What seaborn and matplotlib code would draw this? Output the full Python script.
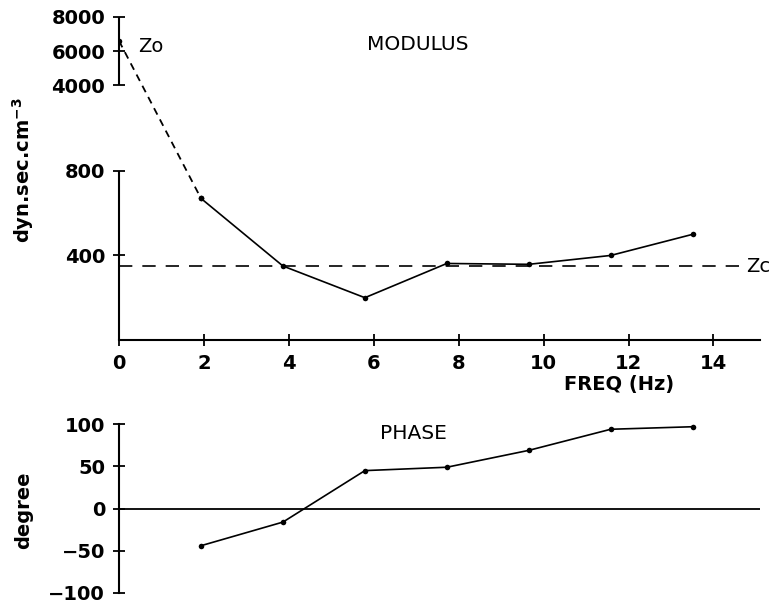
import numpy as np
import pandas as pd
import matplotlib
matplotlib.use("Agg")
import matplotlib.pyplot as plt
import seaborn as sns

# harmonics of heart rate (Hz)
freq = [0, 1.93, 3.86, 5.79, 7.72, 9.65, 11.58, 13.51]
modulus = [6600, 670, 350, 200, 362, 358, 400, 500]
phase_freq = [1.93, 3.86, 5.79, 7.72, 9.65, 11.58, 13.51]
phase = [-44, -16, 45, 49, 69, 94, 97]
zc_value = 350

mod_ticks = [400, 800, 4000, 6000, 8000]
phase_ticks = [-100, -50, 0, 50, 100]
freq_ticks = [0, 2, 4, 6, 8, 10, 12, 14]

sns.set_style("ticks")
plt.rcParams['font.family'] = ['DejaVu Sans']
plt.rcParams['axes.linewidth'] = 1.5
plt.rcParams['text.color'] = 'black'
plt.rcParams['xtick.color'] = 'black'
plt.rcParams['ytick.color'] = 'black'
plt.rcParams['axes.edgecolor'] = 'black'

fig = plt.figure(figsize=(7.8, 6.06), dpi=100)
ax1 = fig.add_axes([0.1526, 0.439, 0.822, 0.533])
ax2 = fig.add_axes([0.1526, 0.0215, 0.822, 0.2785])

# broken modulus axis: piecewise linear scale
brk_val = [0, 800, 4000, 8000]
brk_pos = [0, 168, 253, 321]
fwd = lambda v: np.interp(v, brk_val, brk_pos)
inv = lambda p: np.interp(p, brk_pos, brk_val)
ax1.set_yscale('function', functions=(fwd, inv))

df = pd.DataFrame({"freq": freq, "modulus": modulus})
sns.lineplot(data=df.iloc[1:], x="freq", y="modulus", ax=ax1, color="black",
             lw=1.2, marker="o", markersize=4, markeredgewidth=0)
sns.lineplot(data=df.iloc[:2], x="freq", y="modulus", ax=ax1, color="black",
             lw=1.3, ls=(0, (4, 3)), marker="o", markersize=4, markeredgewidth=0)
ax1.axhline(zc_value, xmax=0.975, color="black", lw=1.2, ls=(0, (8, 6)))

ax1.set_xlim(0, 15.1)
ax1.set_ylim(0, 8000)
ax1.set_yticks(mod_ticks)
ax1.set_yticklabels([str(t) for t in mod_ticks])
ax1.set_xticks(freq_ticks)
ax1.set_xticklabels([str(t) for t in freq_ticks])
ax1.spines[['top', 'right', 'left']].set_visible(False)
ax1.vlines(0, 0, 800, color="black", lw=1.5, clip_on=False)
ax1.vlines(0, 4000, 8000, color="black", lw=1.5, clip_on=False)
ax1.tick_params(direction="inout", length=8, width=1.3, labelsize=14, pad=6)
for lab in ax1.get_xticklabels() + ax1.get_yticklabels():
    lab.set_fontweight("bold")
ax1.set_xlabel("")
ax1.set_ylabel("")

ax1.text(0.45, 6300, "Zo", fontsize=14, va="center", ha="left")
ax1.text(14.78, zc_value, "Zc", fontsize=14, va="center", ha="left")

# phase
sns.lineplot(x=phase_freq, y=phase, ax=ax2, color="black", lw=1.2,
             marker="o", markersize=4, markeredgewidth=0)
ax2.axhline(0, color="black", lw=1.3)
ax2.set_xlim(0, 15.1)
ax2.set_ylim(-100, 100)
ax2.set_yticks(phase_ticks)
ax2.set_yticklabels(["\u2212100", "\u221250", "0", "50", "100"])
ax2.set_xticks([])
ax2.spines[['top', 'right', 'bottom']].set_visible(False)
ax2.tick_params(direction="inout", length=8, width=1.3, labelsize=14, pad=6)
for lab in ax2.get_yticklabels():
    lab.set_fontweight("bold")

fig.text(0.536, 0.927, "MODULUS", fontsize=14.5, ha="center", va="center")
fig.text(0.53, 0.285, "PHASE", fontsize=14.5, ha="center", va="center")
fig.text(0.794, 0.365, "FREQ (Hz)", fontsize=14, fontweight="bold",
         ha="center", va="center")
fig.text(0.03, 0.72, "dyn.sec.cm$^{\\mathbf{-3}}$", fontsize=14, fontweight="bold",
         rotation=90, ha="center", va="center")
fig.text(0.03, 0.158, "degree", fontsize=14, fontweight="bold",
         rotation=90, ha="center", va="center")

plt.savefig("out.png", dpi=100)
